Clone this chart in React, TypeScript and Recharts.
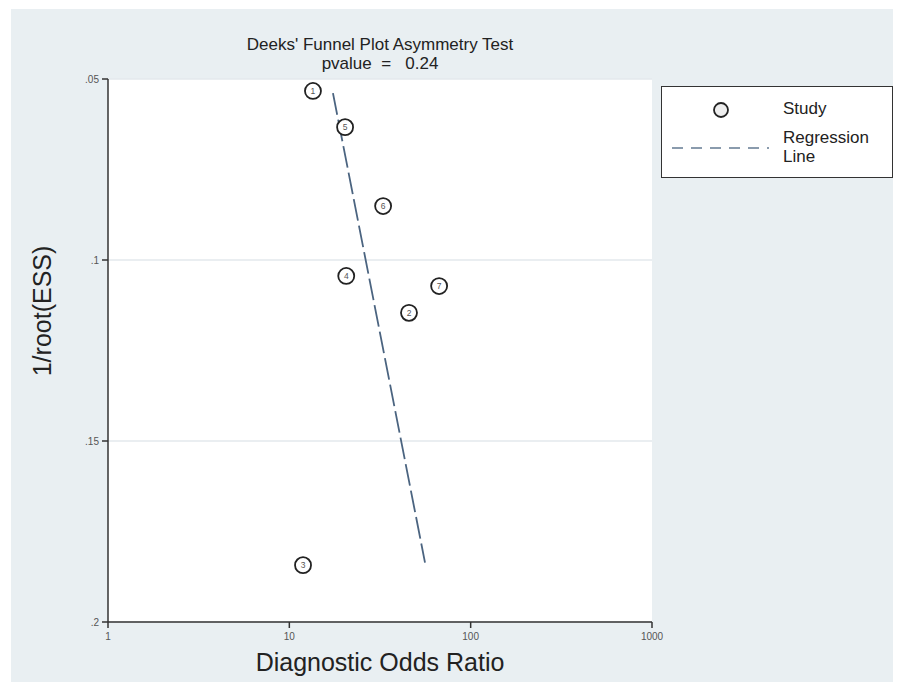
import { ScatterChart, Scatter, XAxis, YAxis, CartesianGrid } from 'recharts';

// study estimates
const studyIds = [1, 2, 3, 4, 5, 6, 7];
const studyDOR = [13.5, 45.7, 11.9, 20.6, 20.3, 32.9, 67];
const studyInvRootESS = [0.0533, 0.1146, 0.1843, 0.1044, 0.0633, 0.0851, 0.1072];

// regression line ends
const regDOR = [17.4, 56];
const regInvRootESS = [0.0539, 0.1836];

const xTicks = [1, 10, 100, 1000];
const yTicks = [0.05, 0.1, 0.15, 0.2];

const studies = studyIds.map((id, i) => ({ id, dor: studyDOR[i], y: studyInvRootESS[i] }));
const regLine = regDOR.map((d, i) => ({ dor: d, y: regInvRootESS[i] }));

const FONT = '"Liberation Sans", Arial, sans-serif';
const BG = '#e9eff2';
const LINE_COLOR = '#4b6480';

const StudyDot = (props: any) => {
  const { cx, cy, payload } = props;
  return (
    <g>
      <circle cx={cx} cy={cy} r={8} fill="#fff" stroke="#222" strokeWidth={1.8} />
      <text x={cx} y={cy} textAnchor="middle" dominantBaseline="central" fontSize={8.5} fill="#555" fontFamily={FONT}>
        {payload.id}
      </text>
    </g>
  );
};

const fmtY = (v: number) => String(v).replace(/^0/, '');

export default function App() {
  return (
    <div style={{ position: 'relative', width: 889, height: 674, fontFamily: FONT }}>
      <div style={{ position: 'absolute', left: 3, top: 1, width: 886, height: 673, background: BG }}>
        <ScatterChart width={886} height={673} margin={{ top: 70, right: 245, left: 0, bottom: 0 }}>
          <CartesianGrid vertical={false} fill="#fff" stroke="#e3e9ec" strokeWidth={1.5} />
          <XAxis
            type="number"
            dataKey="dor"
            scale="log"
            domain={[1, 1000]}
            ticks={xTicks}
            allowDataOverflow
            height={60}
            axisLine={{ stroke: '#333', strokeWidth: 1.5 }}
            tickLine={{ stroke: '#333', strokeWidth: 1.5 }}
            tickSize={6}
            tickMargin={5}
            tick={{ fontSize: 10, fill: '#555', fontFamily: FONT }}
            label={({ viewBox }: any) => (
              <text
                x={viewBox.x + viewBox.width / 2}
                y={viewBox.y + 40}
                textAnchor="middle"
                dominantBaseline="central"
                fontSize={25}
                fill="#222"
                fontFamily={FONT}
              >
                Diagnostic Odds Ratio
              </text>
            )}
          />
          <YAxis
            type="number"
            dataKey="y"
            reversed
            domain={[0.05, 0.2]}
            ticks={yTicks}
            width={97}
            axisLine={{ stroke: '#333', strokeWidth: 1.5 }}
            tickLine={{ stroke: '#333', strokeWidth: 1.5 }}
            tickSize={6}
            tickMargin={3}
            tickFormatter={fmtY}
            tick={{ fontSize: 10, fill: '#555', fontFamily: FONT }}
            label={() => (
              <text
                x={31}
                y={302}
                transform="rotate(-90 31 302)"
                textAnchor="middle"
                dominantBaseline="central"
                fontSize={25}
                fill="#222"
                fontFamily={FONT}
              >
                1/root(ESS)
              </text>
            )}
          />
          <Scatter
            data={regLine}
            isAnimationActive={false}
            line={{ stroke: LINE_COLOR, strokeWidth: 1.8, strokeDasharray: '22 5' }}
            shape={() => <g />}
          />
          <Scatter data={studies} isAnimationActive={false} shape={StudyDot} />
        </ScatterChart>
      </div>
      <div
        style={{
          position: 'absolute',
          left: 172,
          top: 27,
          width: 400,
          textAlign: 'center',
          fontSize: 17,
          lineHeight: '19px',
          color: '#222',
          whiteSpace: 'pre',
        }}
      >
        <div>Deeks' Funnel Plot Asymmetry Test</div>
        <div>pvalue  =   0.24</div>
      </div>
      <div
        style={{
          position: 'absolute',
          left: 653,
          top: 78,
          width: 230,
          height: 90,
          background: '#fff',
          border: '1.5px solid #333',
          fontSize: 17,
          color: '#222',
        }}
      >
        <svg width={230} height={90} style={{ position: 'absolute', left: 0, top: 0 }}>
          <circle cx={59} cy={23} r={7} fill="#eee" stroke="#222" strokeWidth={1.8} />
          <line x1={10} y1={61} x2={107} y2={61} stroke="#8a9bad" strokeWidth={1.8} strokeDasharray="11 8" />
        </svg>
        <div style={{ position: 'absolute', left: 121, top: 12, lineHeight: '20px' }}>Study</div>
        <div style={{ position: 'absolute', left: 121, top: 41, lineHeight: '19px' }}>
          Regression
          <br />
          Line
        </div>
      </div>
    </div>
  );
}
